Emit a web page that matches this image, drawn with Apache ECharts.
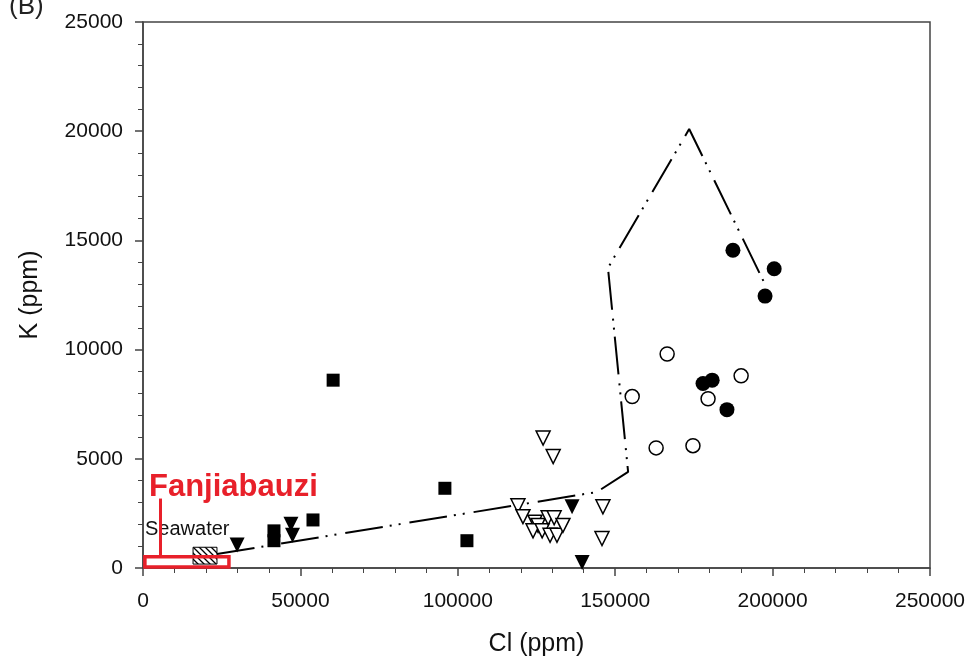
<!DOCTYPE html>
<html lang="en">
<head>
    <meta charset="UTF-8">
    <title>K vs Cl</title>
    <script src="https://cdn.jsdelivr.net/npm/echarts@6.0.0/dist/echarts.min.js"></script>
    <style>
        html, body { margin: 0; padding: 0; background: #fff; }
        #chart { width: 969px; height: 666px; }
    </style>
</head>
<body>
    <div id="chart"></div>
    <script type="text/javascript">
    // values, [Cl, K] in ppm
    var filledSquares = [[41600, 1700], [41600, 1250], [54000, 2200], [60400, 8600], [95900, 3650], [102900, 1250]];
    var filledTriangles = [[29900, 1050], [47000, 2000], [47500, 1500], [136300, 2800], [139500, 250]];
    var openTriangles = [
        [127100, 5950], [130300, 5100], [119100, 2850], [120700, 2350], [124500, 2100],
        [125500, 1950], [123900, 1700], [126800, 1700], [128700, 2300], [130600, 2300],
        [129300, 1500], [131500, 1500], [133400, 1950], [146100, 2800], [145800, 1350]
    ];
    var openCircles = [[166500, 9800], [190000, 8800], [155400, 7850], [179500, 7750], [163000, 5500], [174700, 5600]];
    var filledCircles = [[187400, 14550], [200500, 13700], [197600, 12450], [177900, 8450], [180800, 8600], [185500, 7250]];
    // dash-dot-dot outline
    var fieldLine = [[23500, 640], [144200, 3480], [154100, 4400], [147700, 13740], [173500, 20100], [197900, 12900]];
    // seawater box and the red Fanjiabauzi box
    var seawaterBox = [[15900, 180], [23500, 950]];
    var fanjiaBox = [[600, 50], [27300, 520]];
    var fanjiaStem = [[5400, 520], [5400, 3180]];

    var chart = echarts.init(document.getElementById('chart'));

    // small canvas for the hatching of the seawater box
    var hatch = document.createElement('canvas');
    hatch.width = 6;
    hatch.height = 6;
    var ctx = hatch.getContext('2d');
    ctx.fillStyle = '#fff';
    ctx.fillRect(0, 0, 6, 6);
    ctx.strokeStyle = '#000';
    ctx.lineWidth = 1.3;
    ctx.beginPath();
    ctx.moveTo(-1, -1); ctx.lineTo(7, 7);
    ctx.moveTo(-4, 2); ctx.lineTo(4, 10);
    ctx.moveTo(2, -4); ctx.lineTo(10, 4);
    ctx.stroke();

    var font = 'Liberation Sans, Arial, sans-serif';
    var openStyle = { color: '#fff', borderColor: '#000', borderWidth: 1.5, opacity: 1 };
    var solidStyle = { color: '#000', opacity: 1 };

    var option = {
        animation: false,
        backgroundColor: '#fff',
        grid: { left: 143, right: 39, top: 22, bottom: 98, show: true, borderColor: '#444', borderWidth: 1.5, backgroundColor: 'transparent' },
        xAxis: {
            type: 'value', min: 0, max: 250000, interval: 50000,
            name: 'Cl (ppm)', nameLocation: 'middle', nameGap: 64,
            nameTextStyle: { fontFamily: font, fontSize: 25, color: '#111' },
            axisLine: { onZero: false, lineStyle: { color: '#444', width: 1.5 } },
            axisTick: { show: true, length: 8, lineStyle: { color: '#444', width: 1.5 } },
            minorTick: { show: true, splitNumber: 5, length: 5, lineStyle: { color: '#444', width: 1 } },
            axisLabel: { fontFamily: font, fontSize: 21, color: '#111', margin: 23, formatter: function (v) { return String(v); } },
            splitLine: { show: false }
        },
        yAxis: {
            type: 'value', min: 0, max: 25000, interval: 5000,
            name: 'K (ppm)', nameLocation: 'middle', nameGap: 100,
            nameTextStyle: { fontFamily: font, fontSize: 25, color: '#111' },
            axisLine: { show: true, onZero: false, lineStyle: { color: '#444', width: 1.5 } },
            axisTick: { show: true, length: 8, lineStyle: { color: '#444', width: 1.5 } },
            minorTick: { show: true, splitNumber: 5, length: 5, lineStyle: { color: '#444', width: 1 } },
            axisLabel: { fontFamily: font, fontSize: 21, color: '#111', margin: 20, formatter: function (v) { return String(v); } },
            splitLine: { show: false }
        },
        graphic: [
            { type: 'text', left: 9, top: -6, style: { text: '(B)', font: '26px ' + font, fill: '#222' } },
            { type: 'text', left: 149, top: 472, style: { text: 'Fanjiabauzi', font: 'bold 31px ' + font, fill: '#e8202a' } },
            { type: 'text', left: 145, top: 519, style: { text: 'Seawater', font: '20px ' + font, fill: '#111' } }
        ],
        series: [
            {
                name: 'field', type: 'line', data: fieldLine, symbol: 'none', z: 2,
                lineStyle: { color: '#000', width: 2, type: [38, 7, 2, 7, 2, 9] },
                markArea: {
                    silent: true,
                    itemStyle: { color: { image: hatch, repeat: 'repeat' }, borderColor: '#000', borderWidth: 1 },
                    data: [[{ coord: seawaterBox[0] }, { coord: seawaterBox[1] }]]
                }
            },
            {
                name: 'Fanjiabauzi', type: 'scatter', data: [], z: 5,
                markArea: {
                    silent: true,
                    itemStyle: { color: 'transparent', borderColor: '#e8202a', borderWidth: 3.5 },
                    data: [[{ coord: fanjiaBox[0] }, { coord: fanjiaBox[1] }]]
                },
                markLine: {
                    silent: true, symbol: 'none', label: { show: false },
                    lineStyle: { color: '#e8202a', width: 3, type: 'solid' },
                    data: [[{ coord: fanjiaStem[0] }, { coord: fanjiaStem[1] }]]
                }
            },
            { name: 'squares', type: 'scatter', data: filledSquares, symbol: 'rect', symbolSize: 13, itemStyle: solidStyle, z: 3 },
            { name: 'filled triangles', type: 'scatter', data: filledTriangles, symbol: 'triangle', symbolRotate: 180, symbolSize: 15, itemStyle: solidStyle, z: 3 },
            { name: 'open triangles', type: 'scatter', data: openTriangles, symbol: 'triangle', symbolRotate: 180, symbolSize: 14, itemStyle: openStyle, z: 3 },
            { name: 'open circles', type: 'scatter', data: openCircles, symbol: 'circle', symbolSize: 14, itemStyle: openStyle, z: 3 },
            { name: 'filled circles', type: 'scatter', data: filledCircles, symbol: 'circle', symbolSize: 15, itemStyle: solidStyle, z: 3 }
        ]
    };
    chart.setOption(option);
    </script>
</body>
</html>
